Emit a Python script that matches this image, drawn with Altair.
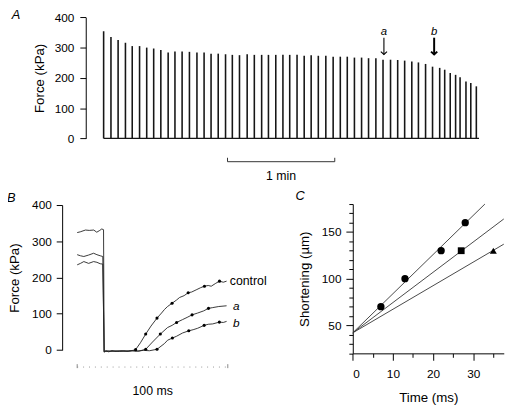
import altair as alt
import pandas as pd

FONT = "Liberation Sans"

# ---------------- Panel A: peak force of successive tetani ----------------
tetanus_time_s = [0, 4.1, 8.1, 12.2, 16.0, 20.1, 24.1, 28.0, 32.0, 36.1, 39.9, 43.9, 48.0, 52.2,
                  56.2, 60.1, 64.1, 68.2, 72.0, 76.0, 80.3, 84.3, 88.4, 92.2, 96.3, 100.3, 104.1,
                  108.2, 112.2, 116.1, 120.1, 124.3, 128.4, 132.4, 136.3, 140.3, 144.3, 148.2,
                  152.3, 156.3, 160.5, 164.5, 168.4, 172.4, 176.1, 180.1, 184.0, 188.0, 190.8,
                  193.9, 196.9, 199.4, 202.7, 205.4, 208.5]
tetanus_peak_kpa = [354, 335, 325, 316, 305, 305, 300, 297, 292, 284, 287, 287, 286, 284, 284, 280,
                    280, 278, 276, 275, 278, 276, 276,
                    276, 276, 276, 276, 276, 273, 275, 273,
                    273, 270, 270, 270, 267, 267, 265, 265, 260, 260, 259, 257, 254, 251, 246,
                    237, 233, 227, 216, 210, 202, 188, 183, 172]
arrow_labels = ["a", "b"]
arrow_time_s = [156.8, 184.9]
arrow_width = [1.1, 2.0]
scalebar_time_s = [69.3, 129.3]   # 1 min

# ---------------- Panel B: force during release / redevelopment ----------------
ctrl_t = [0, 2, 5.5, 8, 11, 13, 15, 16.3, 17.5, 17.9, 19, 21, 23, 25, 28, 31, 34, 37, 38.8,
          42, 45.5, 49, 53, 56, 58, 60, 63, 66, 68, 71, 73.7, 76, 79, 82, 84.5, 87, 89, 92, 94.5, 97, 99.2]
ctrl_f = [324, 326, 331, 330, 331, 325, 330, 334, 332, -6, -3, -5, -2, -4, -3, -2, -3, -1, 1,
          20, 44, 66, 88, 102, 112, 120, 129, 138, 145, 150, 158, 160, 166, 172, 176, 178, 176, 184, 190, 187, 190]
a_t = [0, 2.2, 4.4, 7.6, 10.9, 13.1, 15.3, 17.0, 17.9, 19, 22, 25, 29, 33, 37, 41, 45.5,
       50, 55.2, 60, 63, 66, 70, 73, 76.3, 80, 84, 87.2, 90, 94, 99.2]
a_f = [263, 260, 258, 262, 267, 263, 260, 258, -5, -2, -4, -3, -2, -4, -2, -3, 2,
       22, 44, 62, 68, 76, 84, 90, 97, 102, 108, 115, 117, 120, 122]
b_t = [0, 2.2, 4.4, 7.6, 10.9, 13.1, 15.3, 17.0, 17.9, 20, 24, 28, 32, 36, 40, 44, 48, 53,
       58, 60, 63.2, 66, 70, 74.1, 77, 80, 84.3, 87, 90, 94.4, 97, 99.2]
b_f = [235, 239, 244, 239, 244, 242, 238, 237, -4, -3, -2, -4, -3, -2, -3, -1, -2, 2,
       18, 27, 33, 38, 47, 53, 56, 60, 68, 71, 72, 77, 76, 79]
ctrl_dot_t = [38.8, 45.5, 53, 63, 73.7, 84.5, 94.5]
ctrl_dot_f = [1, 44, 88, 129, 158, 176, 190]
a_dot_t = [45.5, 55.2, 66, 76.3, 87.2]
a_dot_f = [2, 44, 76, 97, 115]
b_dot_t = [53, 63.2, 74.1, 84.3, 94.4]
b_dot_f = [2, 33, 53, 68, 77]
trace_names = ["control", "a", "b"]

# ---------------- Panel C: shortening vs time ----------------
circle_t = [7, 13, 22, 28]
circle_s = [70, 100, 130, 160]
square_t = [27]
square_s = [130]
triangle_t = [35]
triangle_s = [130]
fit_t0 = [0, 0, 0]
fit_s0 = [42, 42, 42]
fit_t1 = [32.9, 37.6, 37.6]
fit_s1 = [180, 164, 137]

H = 398
W = 508

axis_style = dict(domainColor="black", tickColor="black", labelColor="black", titleColor="black",
                  domainWidth=1, tickWidth=1, labelFont=FONT, titleFont=FONT, labelFontSize=12,
                  titleFontSize=13.5, titleFontWeight="normal", grid=False)

# ===== Panel A =====
sxA = alt.Scale(domain=[-10, 213], range=[79, 484])
syA = alt.Scale(domain=[0, 400], range=[129.3, 6.3])
axA = alt.Axis(orient="left", offset=-79, values=[0, 100, 200, 300, 400], title="Force (kPa)",
               tickSize=6, labelPadding=6, titlePadding=8, **axis_style)


def xa(f):
    return alt.X(f, scale=sxA, axis=None)


def ya(f):
    return alt.Y(f, scale=syA, axis=axA)


spk = pd.DataFrame({"t": tetanus_time_s, "peak": tetanus_peak_kpa, "zero": [0] * len(tetanus_time_s)})
A_spikes = alt.Chart(spk).mark_rule(strokeWidth=1.6, color="#161616").encode(
    x=xa("t:Q"), y=ya("peak:Q"), y2="zero:Q")
base = pd.DataFrame({"t0": [tetanus_time_s[0]], "t1": [tetanus_time_s[-1] + 1.5], "v": [0]})
A_base = alt.Chart(base).mark_rule(strokeWidth=1.2, color="#161616").encode(
    x=xa("t0:Q"), x2="t1:Q", y=ya("v:Q"))

arr = pd.DataFrame({"lab": arrow_labels, "t": arrow_time_s, "w": arrow_width,
                    "top": [332.7, 332.7], "tip": [277.4, 277.4], "ty": [352, 352]})
A_arrow = alt.Chart(arr).mark_rule(color="black").encode(
    x=xa("t:Q"), y=ya("top:Q"), y2="tip:Q", strokeWidth=alt.StrokeWidth("w:Q", scale=None))
A_head = alt.Chart(arr).mark_point(shape="M-1,-0.9L0,0L1,-0.9", filled=False, size=40, color="black",
                                   opacity=1).encode(
    x=xa("t:Q"), y=ya("tip:Q"), strokeWidth=alt.StrokeWidth("w:Q", scale=None))
A_lab = alt.Chart(arr).mark_text(font=FONT, fontSize=11.5, fontStyle="italic", color="black").encode(
    x=xa("t:Q"), y=ya("ty:Q"), text="lab:N")

sb = pd.DataFrame({"t0": [scalebar_time_s[0]], "t1": [scalebar_time_s[1]], "v": [-77]})
A_sb = alt.Chart(sb).mark_rule(color="#333", strokeWidth=1).encode(x=xa("t0:Q"), x2="t1:Q", y=ya("v:Q"))
sbe = pd.DataFrame({"t": scalebar_time_s, "v": [-77, -77], "vt": [-64, -64]})
A_sbe = alt.Chart(sbe).mark_rule(color="#333", strokeWidth=1).encode(x=xa("t:Q"), y=ya("v:Q"), y2="vt:Q")
A_txt1 = alt.Chart(pd.DataFrame({"t": [99.3], "v": [-126], "s": ["1 min"]})).mark_text(
    font=FONT, fontSize=12.5, color="black").encode(x=xa("t:Q"), y=ya("v:Q"), text="s:N")
A_txt2 = alt.Chart(pd.DataFrame({"t": [-49.0], "v": [409], "s": ["A"]})).mark_text(
    font=FONT, fontSize=13, fontStyle="italic", color="black").encode(x=xa("t:Q"), y=ya("v:Q"), text="s:N")

panelA = alt.layer(A_spikes, A_base, A_arrow, A_head, A_lab, A_sb, A_sbe, A_txt1, A_txt2)

# ===== Panel B =====
sxB = alt.Scale(domain=[-10, 100], range=[55, 223.3])
syB = alt.Scale(domain=[0, 400], range=[344.3, 197])
axB = alt.Axis(orient="left", offset=-55, values=[0, 100, 200, 300, 400], title="Force (kPa)",
               tickSize=6, labelPadding=5, titlePadding=10, **axis_style)


def xb(f):
    return alt.X(f, scale=sxB, axis=None)


def yb(f):
    return alt.Y(f, scale=syB, axis=axB)


tr = pd.concat([
    pd.DataFrame({"trace": trace_names[0], "t": ctrl_t, "f": ctrl_f, "o": range(len(ctrl_t))}),
    pd.DataFrame({"trace": trace_names[1], "t": a_t, "f": a_f, "o": range(len(a_t))}),
    pd.DataFrame({"trace": trace_names[2], "t": b_t, "f": b_f, "o": range(len(b_t))}),
])
dots = pd.concat([
    pd.DataFrame({"trace": trace_names[0], "t": ctrl_dot_t, "f": ctrl_dot_f}),
    pd.DataFrame({"trace": trace_names[1], "t": a_dot_t, "f": a_dot_f}),
    pd.DataFrame({"trace": trace_names[2], "t": b_dot_t, "f": b_dot_f}),
])
B_lines = alt.Chart(tr).mark_line(color="#222", strokeWidth=0.9).encode(
    x=xb("t:Q"), y=yb("f:Q"), detail="trace:N", order="o:Q")
B_dots = alt.Chart(dots).mark_circle(color="black", size=10, opacity=1).encode(x=xb("t:Q"), y=yb("f:Q"))
blab = pd.DataFrame({"s": trace_names, "t": [101.3, 103.5, 103.5], "v": [191, 121.7, 74]})
B_lab1 = alt.Chart(blab.iloc[[0]]).mark_text(font=FONT, fontSize=12.5, align="left", color="black").encode(
    x=xb("t:Q"), y=yb("v:Q"), text="s:N")
B_lab2 = alt.Chart(blab.iloc[[1, 2]]).mark_text(font=FONT, fontSize=12, fontStyle="italic", align="left",
                                                color="black").encode(x=xb("t:Q"), y=yb("v:Q"), text="s:N")
tb = pd.DataFrame({"t0": [0], "t1": [100], "v": [-47]})
B_tb = alt.Chart(tb).mark_rule(color="#999", strokeWidth=1, strokeDash=[1, 5]).encode(
    x=xb("t0:Q"), x2="t1:Q", y=yb("v:Q"))
tbe = pd.DataFrame({"t": [0, 100], "v0": [-39, -39], "v1": [-50, -50]})
B_tbe = alt.Chart(tbe).mark_rule(color="#888", strokeWidth=1).encode(x=xb("t:Q"), y=yb("v0:Q"), y2="v1:Q")
B_txt = alt.Chart(pd.DataFrame({"t": [50.1], "v": [-112], "s": ["100 ms"]})).mark_text(
    font=FONT, fontSize=12.5, color="black").encode(x=xb("t:Q"), y=yb("v:Q"), text="s:N")
B_letter = alt.Chart(pd.DataFrame({"t": [-43.7], "v": [420], "s": ["B"]})).mark_text(
    font=FONT, fontSize=13, fontStyle="italic", color="black").encode(x=xb("t:Q"), y=yb("v:Q"), text="s:N")

panelB = alt.layer(B_lines, B_dots, B_lab1, B_lab2, B_tb, B_tbe, B_txt, B_letter)

# ===== Panel C =====
sxC = alt.Scale(domain=[0, 37.6], range=[350.3, 503.7])
syC = alt.Scale(domain=[20, 180], range=[347.7, 196])
axCx = alt.Axis(orient="bottom", offset=347.7 - H, values=[0, 5, 10, 15, 20, 25, 30, 35],
                labelExpr="datum.value % 10 === 0 ? datum.label : ''",
                tickSize={"condition": {"test": "datum.value % 10 === 0", "value": 7}, "value": 4},
                labelPadding=9, title="Time (ms)", titlePadding=11, **axis_style)
axCy = alt.Axis(orient="left", offset=-350.3, values=list(range(20, 181, 10)),
                labelExpr="datum.value % 50 === 0 ? datum.label : ''",
                tickSize={"condition": {"test": "datum.value % 50 === 0", "value": 7}, "value": 4},
                labelPadding=5, title="Shortening (µm)", titlePadding=10, **axis_style)


def xc(f):
    return alt.X(f, scale=sxC, axis=axCx)


def yc(f):
    return alt.Y(f, scale=syC, axis=axCy)


fits = pd.DataFrame({"t0": fit_t0, "s0": fit_s0, "t1": fit_t1, "s1": fit_s1})
C_fit = alt.Chart(fits).mark_rule(color="#333", strokeWidth=0.9).encode(
    x=xc("t0:Q"), y=yc("s0:Q"), x2="t1:Q", y2="s1:Q")
C_circ = alt.Chart(pd.DataFrame({"t": circle_t, "s": circle_s})).mark_point(
    shape="circle", filled=True, size=55, color="black", opacity=1).encode(x=xc("t:Q"), y=yc("s:Q"))
C_sq = alt.Chart(pd.DataFrame({"t": square_t, "s": square_s})).mark_point(
    shape="square", filled=True, size=48, color="black", opacity=1).encode(x=xc("t:Q"), y=yc("s:Q"))
C_tri = alt.Chart(pd.DataFrame({"t": triangle_t, "s": triangle_s})).mark_point(
    shape="triangle-up", filled=True, size=50, color="black", opacity=1).encode(x=xc("t:Q"), y=yc("s:Q"))
C_letter = alt.Chart(pd.DataFrame({"t": [-13.1], "v": [188.5], "s": ["C"]})).mark_text(
    font=FONT, fontSize=13, fontStyle="italic", color="black").encode(x=xc("t:Q"), y=yc("v:Q"), text="s:N")

panelC = alt.layer(C_fit, C_circ, C_sq, C_tri, C_letter)

chart = alt.layer(panelA, panelB, panelC).resolve_scale(
    x="independent", y="independent").resolve_axis(x="independent", y="independent").properties(
    width=W, height=H, padding=0, autosize=alt.AutoSizeParams(type="none")
).configure_view(stroke=None).configure_text(font=FONT)

chart.save("out.html", embed_options={"renderer": "svg", "actions": False})
